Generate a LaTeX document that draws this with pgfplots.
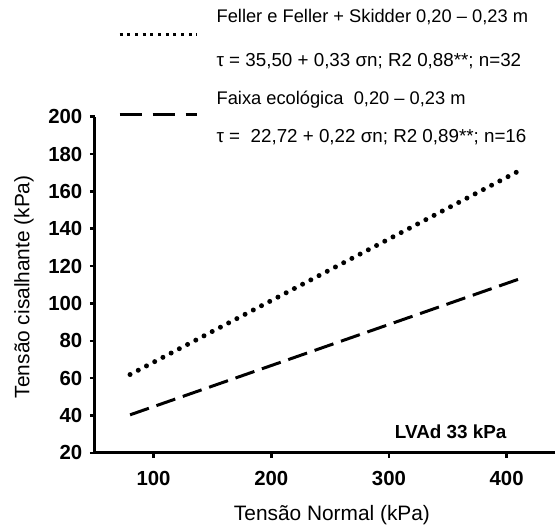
\documentclass[border=0pt]{standalone}
\usepackage{pgfplots}
\pgfplotsset{compat=1.18}
\usepackage{fontspec}
\setmainfont{Liberation Sans}
\begin{document}
\begin{tikzpicture}
\begin{axis}[
  at={(0,0)}, anchor=south west,
  scale only axis, width=461bp, height=337bp,
  xmin=50, xmax=440.7, ymin=20, ymax=200,
  axis x line*=bottom, axis y line*=left,
  axis line style={line width=3bp},
  xtick={100,200,300,400}, ytick={20,40,...,200},
  tick align=outside, major tick length=5bp,
  tick style={line width=2.5bp, black},
  minor tick num=0,
  /pgf/number format/assume math mode=true,
  ticklabel style={font=\fontsize{20.5}{24}\selectfont\bfseries},
  xticklabel style={yshift=-10bp},
  yticklabel style={xshift=-4bp},
  xlabel={Tensão Normal (kPa)},
  ylabel={Tensão cisalhante (kPa)},
  xlabel style={font=\fontsize{21}{25}\selectfont, at={(axis description cs:0.516,0)}, anchor=center, yshift=-62bp},
  ylabel style={font=\fontsize{21}{25}\selectfont, at={([xshift=-71bp]axis description cs:0,0.494)}, anchor=center},
  clip=false,
]
\addplot[black, line width=5bp, line cap=round, dash pattern=on 0bp off 9.3bp] coordinates {(80,61.9) (413,171.79)};
\addplot[black, line width=3bp, dash pattern=on 20bp off 8bp] coordinates {(80,40.32) (414,113.80)};
% legend
\draw[black, line width=3bp, dash pattern=on 3bp off 4.7bp] (axis cs:71.2,244.1) -- (axis cs:137.3,244.1);
\draw[black, line width=3bp, dash pattern=on 22bp off 11bp] (axis cs:71.2,201.3) -- (axis cs:137.3,201.3);
\node[anchor=west, inner sep=0pt, font=\fontsize{18.4}{21}\selectfont] at (axis cs:153.4,253.2) {Feller e Feller + Skidder 0,20 – 0,23 m};
\node[anchor=west, inner sep=0pt, font=\fontsize{18.9}{21}\selectfont] at (axis cs:153.4,230.0) {τ = 35,50 + 0,33 σn; R2 0,88**; n=32};
\node[anchor=west, inner sep=0pt, font=\fontsize{18.4}{21}\selectfont] at (axis cs:153.4,208.9) {Faixa ecológica\ \ 0,20 – 0,23 m};
\node[anchor=west, inner sep=0pt, font=\fontsize{18.9}{21}\selectfont] at (axis cs:153.4,188.8) {τ =\ \ 22,72 + 0,22 σn; R2 0,89**; n=16};
\node[inner sep=0pt, font=\fontsize{19}{22}\selectfont\bfseries] at (axis cs:352.5,31.2) {LVAd 33 kPa};
\end{axis}
\path[use as bounding box] (-95bp,-77bp) rectangle (461bp,454bp);
\end{tikzpicture}
\end{document}
